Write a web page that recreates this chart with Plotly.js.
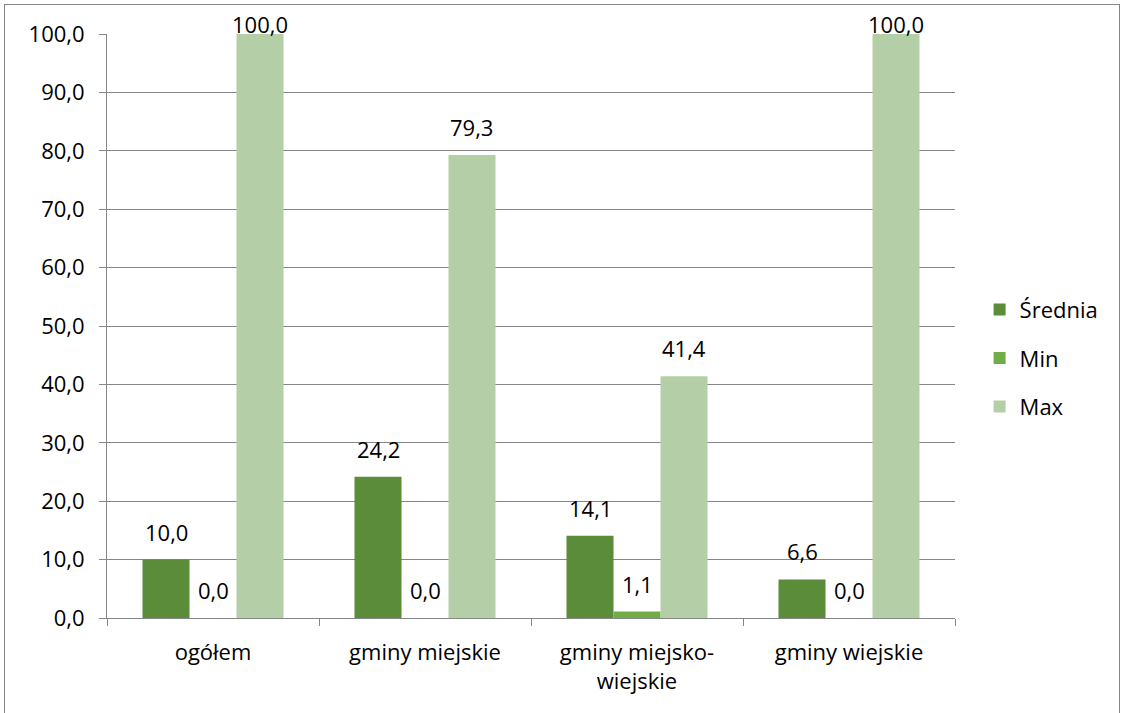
<!DOCTYPE html>
<html><head><meta charset="utf-8">
<script src="https://cdn.plot.ly/plotly-3.0.1.min.js"></script>
<style>
html,body{margin:0;padding:0;background:#fff;overflow:hidden;}
#frame{position:absolute;left:4px;top:4px;width:1116px;height:720px;border:1px solid #868686;box-sizing:border-box;}
#chart{position:absolute;left:0;top:0;width:1124px;height:713px;}
</style></head>
<body>
<div id="frame"></div>
<div id="chart"></div>
<script>
const categories = ["ogółem", "gminy miejskie", "gminy miejsko-<br>wiejskie", "gminy wiejskie"];
const srednia = [10.0, 24.2, 14.1, 6.6];
const minVals = [0.0, 0.0, 1.1, 0.0];
const maxVals = [100.0, 79.3, 41.4, 100.0];
const seriesNames = ["Średnia", "Min", "Max"];
const colors = ["#5B8C3A", "#70AD47", "#B4CFA7"];
const yTicks = [0,10,20,30,40,50,60,70,80,90,100];
const yMax = 100;

const font = {family: "Open Sans, Noto Sans, sans-serif", size: 22, color: "#000"};
const vals = [srednia, minVals, maxVals];
const nSeries = vals.length;
const traces = vals.map((v, i) => ({
  type: "bar",
  x: categories,
  y: v,
  name: seriesNames[i],
  legendgroup: "g" + i,
  marker: {color: colors[i]},
  offsetgroup: String(i),
  hoverinfo: "skip"
}));

// data labels via annotations positioned by the axes
const bargap = 0.335;
const groupWidth = 1 - bargap;
const barW = groupWidth / nSeries;
const annotations = [];
vals.forEach((v, i) => {
  v.forEach((val, j) => {
    const xOff = -groupWidth / 2 + barW * (i + 0.5);
    annotations.push({
      xref: "x", yref: "y",
      x: j + xOff, y: val,
      text: val.toFixed(1).replace(".", ","),
      showarrow: false,
      xanchor: "center", yanchor: "middle",
      yshift: val >= yMax ? 10 : 28,
      font: font
    });
  });
});

const layout = {
  width: 1124, height: 713,
  margin: {l: 107, r: 169, t: 34, b: 95},
  paper_bgcolor: "rgba(0,0,0,0)",
  plot_bgcolor: "rgba(0,0,0,0)",
  separators: ",.",
  barmode: "group",
  bargap: bargap,
  bargroupgap: 0,
  font: font,
  showlegend: true,
  legend: {x: 1.029, xanchor: "left", y: 0.445, yanchor: "middle", font: font, tracegroupgap: 17, bgcolor: "rgba(0,0,0,0)"},
  annotations: annotations,
  xaxis: {
    type: "category",
    range: [-0.5, categories.length - 0.5],
    tickson: "boundaries",
    ticks: "outside", ticklen: 7, tickcolor: "#868686",
    ticklabelstandoff: 15,
    showline: true, linecolor: "#868686", linewidth: 1,
    showgrid: false,
    tickfont: font,
    fixedrange: true
  },
  yaxis: {
    range: [0, yMax],
    tickvals: yTicks,
    tickformat: ".1f",
    ticks: "outside", ticklen: 7, tickcolor: "#868686",
    ticklabelstandoff: 10,
    showline: true, linecolor: "#868686", linewidth: 1,
    showgrid: true, gridcolor: "#868686", gridwidth: 1,
    zeroline: false,
    tickfont: font,
    fixedrange: true
  }
};
Plotly.newPlot("chart", traces, layout, {displayModeBar: false, staticPlot: true});
</script>
</body></html>
